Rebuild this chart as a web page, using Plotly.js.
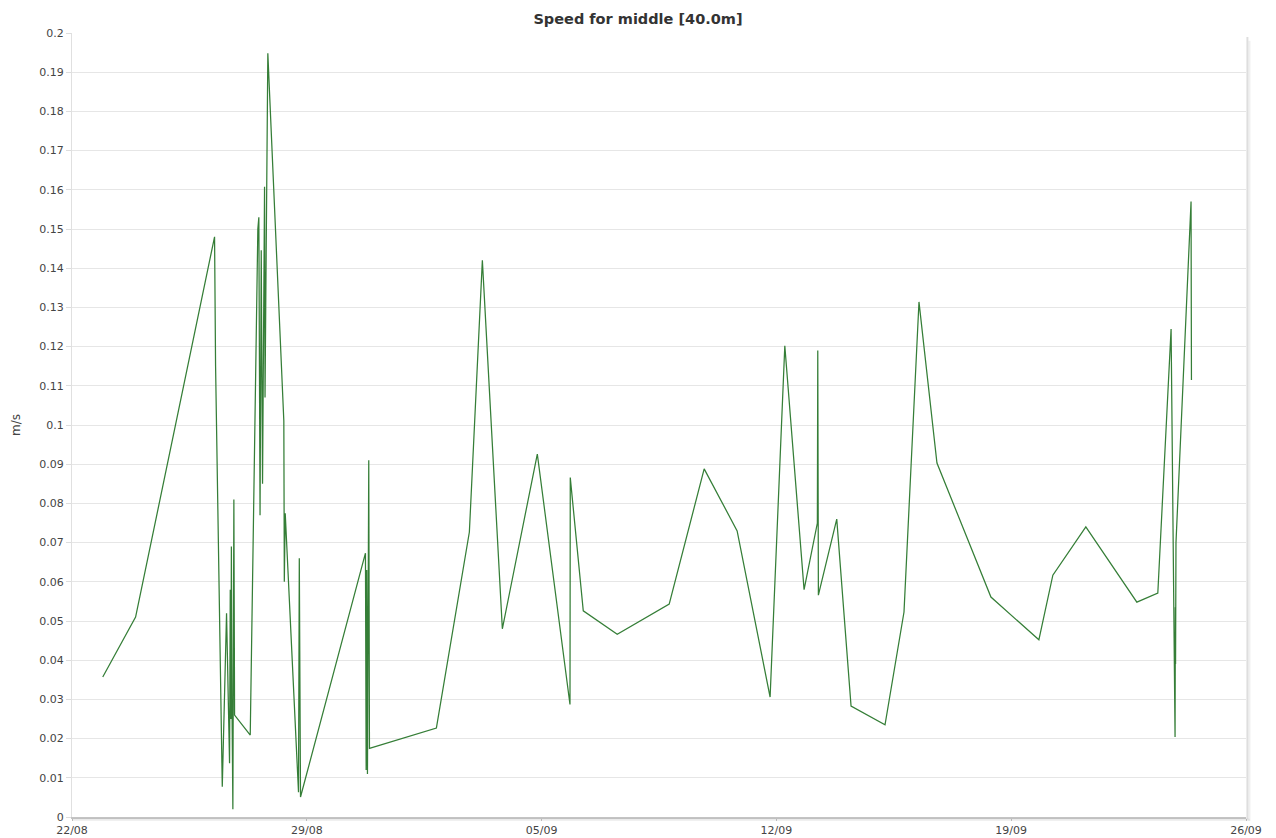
<!DOCTYPE html>
<html>
<head>
<meta charset="utf-8">
<script src="https://cdn.plot.ly/plotly-3.0.1.min.js"></script>
<style>
  html, body { margin: 0; padding: 0; background: #ffffff; }
  #chart { width: 1276px; height: 838px; }
</style>
</head>
<body>
<div id="chart"></div>
<script>
// Sample times
const times = [
  '2016-08-22 22:00', '2016-08-23 21:30', '2016-08-26 06:00', '2016-08-26 06:44',
  '2016-08-26 11:31', '2016-08-26 14:35', '2016-08-26 16:44', '2016-08-26 17:14',
  '2016-08-26 17:40', '2016-08-26 18:02', '2016-08-26 18:27', '2016-08-26 19:06',
  '2016-08-26 19:49', '2016-08-26 20:19', '2016-08-27 07:32', '2016-08-27 12:58',
  '2016-08-27 13:41', '2016-08-27 14:33', '2016-08-27 15:24', '2016-08-27 16:20',
  '2016-08-27 17:46', '2016-08-27 18:07', '2016-08-27 18:37', '2016-08-27 20:07',
  '2016-08-28 07:34', '2016-08-28 07:55', '2016-08-28 08:34', '2016-08-28 18:04',
  '2016-08-28 18:38', '2016-08-28 19:30', '2016-08-30 17:58', '2016-08-30 18:28',
  '2016-08-30 18:54', '2016-08-30 19:24', '2016-08-30 20:20', '2016-08-30 20:50',
  '2016-09-01 20:43', '2016-09-02 20:19', '2016-09-03 05:37', '2016-09-03 19:55',
  '2016-09-04 20:56', '2016-09-05 20:19', '2016-09-05 20:31', '2016-09-06 05:49',
  '2016-09-07 06:07', '2016-09-08 19:18', '2016-09-09 20:19', '2016-09-10 19:54',
  '2016-09-11 19:30', '2016-09-12 06:01', '2016-09-12 19:48', '2016-09-13 05:19',
  '2016-09-13 05:36', '2016-09-13 06:02', '2016-09-13 19:11', '2016-09-14 05:25',
  '2016-09-15 05:43', '2016-09-15 19:18', '2016-09-16 06:01', '2016-09-16 18:53',
  '2016-09-18 09:30', '2016-09-19 19:48', '2016-09-20 05:48', '2016-09-21 05:24',
  '2016-09-22 17:54', '2016-09-23 08:54', '2016-09-23 18:24', '2016-09-23 21:15',
  '2016-09-23 21:28', '2016-09-23 21:36', '2016-09-23 21:54', '2016-09-24 08:41',
  '2016-09-24 08:58'
];

// Speed values in m/s
const speed = [
  0.0357, 0.051, 0.148, 0.115,
  0.0077, 0.052, 0.0137, 0.058,
  0.025, 0.069, 0.030, 0.002,
  0.081, 0.026, 0.0209, 0.150,
  0.153, 0.077, 0.1446, 0.085,
  0.1608, 0.107, 0.130, 0.1948,
  0.101, 0.060, 0.0775, 0.0063,
  0.066, 0.0051, 0.0673, 0.012,
  0.063, 0.011, 0.091, 0.0175,
  0.0227, 0.0727, 0.142, 0.048,
  0.0926, 0.0287, 0.0866, 0.0526,
  0.0466, 0.0543, 0.0888, 0.073,
  0.0306, 0.1202, 0.058, 0.075,
  0.119, 0.0566, 0.076, 0.0283,
  0.0235, 0.0523, 0.1314, 0.0903,
  0.0561, 0.0452, 0.0617, 0.074,
  0.0548, 0.0571, 0.1245, 0.0204,
  0.0535, 0.039, 0.070, 0.157,
  0.1115
];

const chartTitle = 'Speed for middle [40.0m]';
const yTitle = 'm/s';
const xStart = '2016-08-22';
const xEnd = '2016-09-26';

const font = 'Verdana, "DejaVu Sans", sans-serif';

const trace = {
  x: times,
  y: speed,
  type: 'scatter',
  mode: 'lines',
  line: { color: '#357e37', width: 1.25 },
  hoverinfo: 'x+y'
};

const layout = {
  width: 1276,
  height: 838,
  margin: { l: 72, r: 30, t: 33, b: 21 },
  paper_bgcolor: '#ffffff',
  plot_bgcolor: '#ffffff',
  showlegend: false,
  font: { family: font, size: 11, color: '#444444' },
  title: {
    text: '<b>' + chartTitle + '</b>',
    font: { family: font, size: 14.5, color: '#333333' },
    x: 0.5, xanchor: 'center',
    y: 0.978, yanchor: 'middle'
  },
  xaxis: {
    type: 'date',
    range: [xStart, xEnd],
    tick0: xStart,
    dtick: 7 * 86400000,
    tickformat: '%d/%m',
    ticks: 'outside',
    ticklen: 2,
    tickcolor: '#c8c8c8',
    showgrid: false,
    zeroline: false,
    showline: true,
    linecolor: '#c4c4c4',
    linewidth: 2,
    tickfont: { family: font, size: 11, color: '#444444' },
    fixedrange: true
  },
  yaxis: {
    range: [0, 0.2],
    tick0: 0,
    dtick: 0.01,
    ticks: 'outside',
    ticklen: 5,
    tickcolor: '#dddddd',
    showgrid: true,
    gridcolor: '#e6e6e6',
    gridwidth: 1,
    zeroline: false,
    showline: true,
    linecolor: '#e0e0e0',
    linewidth: 1,
    tickfont: { family: font, size: 11, color: '#444444' },
    title: { text: yTitle, font: { family: font, size: 12, color: '#444444' }, standoff: 16 },
    fixedrange: true
  },
  shapes: [
    // right-side drop shadow of the plot frame
    { type: 'line', xref: 'paper', yref: 'paper', x0: 1.0012, x1: 1.0012, y0: -0.003, y1: 0.995,
      line: { color: 'rgba(0,0,0,0.13)', width: 2 } },
    { type: 'line', xref: 'paper', yref: 'paper', x0: 1.003, x1: 1.003, y0: -0.005, y1: 0.99,
      line: { color: 'rgba(0,0,0,0.06)', width: 2 } },
    // bottom drop shadow
    { type: 'line', xref: 'paper', yref: 'paper', x0: 0, x1: 1.003, y0: -0.0035, y1: -0.0035,
      line: { color: 'rgba(0,0,0,0.08)', width: 2 } }
  ]
};

Plotly.newPlot('chart', [trace], layout, { displayModeBar: false, staticPlot: true });
</script>
</body>
</html>
